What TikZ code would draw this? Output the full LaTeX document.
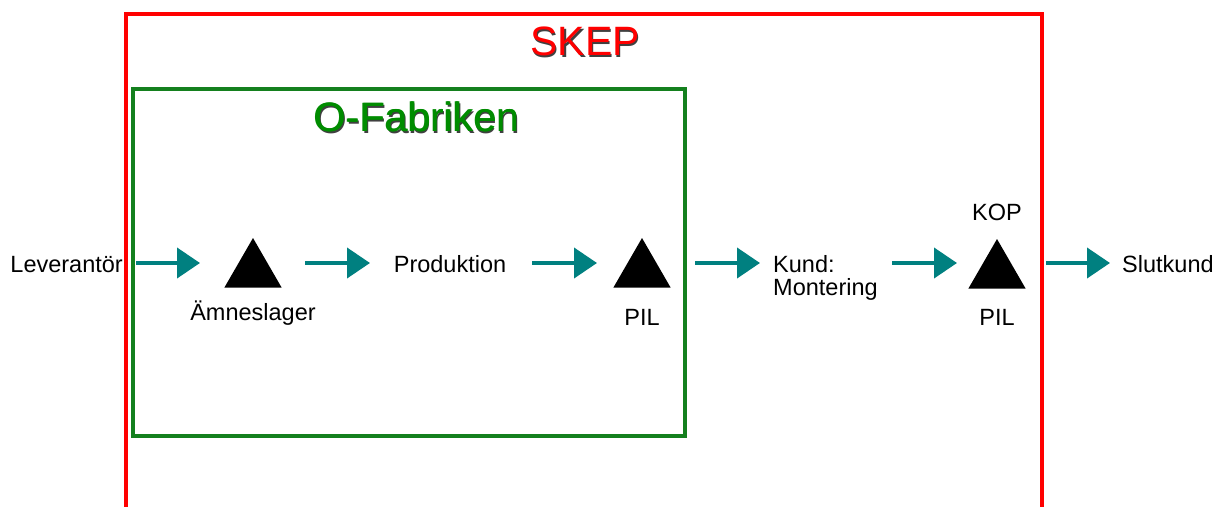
\documentclass[tikz,border=0pt]{standalone}
\usepackage{fontspec}
\setmainfont{Liberation Sans}
\usetikzlibrary{arrows.meta,shapes.geometric}
\definecolor{flowteal}{RGB}{0,128,128}
\definecolor{skepred}{RGB}{255,0,0}
\definecolor{fabgreen}{RGB}{20,128,30}
\definecolor{fabtext}{RGB}{0,140,0}
\begin{document}
\begin{tikzpicture}[x=1pt,y=-1pt,
  lbl/.style={font=\fontsize{23.5}{23}\selectfont, inner sep=0pt, text=black},
  title/.style={font=\fontsize{41}{41}\selectfont, inner sep=0pt, anchor=base},
  shadowtxt/.style={title, text=black, opacity=0.75},
  flow/.style={draw=flowteal, line width=4pt, -{Triangle[length=23pt,width=30pt,fill=flowteal]}},
  stock/.style={regular polygon, regular polygon sides=3, fill=black, inner sep=0pt, outer sep=0pt, minimum size=66pt}]
\useasboundingbox (0,0) rectangle (1217,506);
\fill[white] (0,0) rectangle (1217,506);
\begin{scope}
\clip (0,0) rectangle (1217,506);
\draw[skepred, line width=4pt] (126,14) rectangle (1042,540);
\end{scope}
\draw[fabgreen, line width=3.5pt] (133,89) rectangle (685,436);
% titles
\node[shadowtxt] at (586.5,57) {SKEP};
\node[title, text=skepred] (skep) at (585,55.5) {SKEP};
\node[shadowtxt] at (418,133) {O-Fabriken};
\node[title, text=fabtext] at (417.2,131.5) {O-Fabriken};
\node[title, text=fabtext] (ofab) at (416.5,131.5) {O-Fabriken};
% stocks
\node[stock] (t1) at (253,271) {};
\node[stock] (t2) at (642,271) {};
\node[stock] (t3) at (997,272) {};
% labels
\node[lbl, anchor=base east] (lev) at (123,272) {Leverantör};
\node[lbl, anchor=base] (amn) at (253,320) {Ämneslager};
\node[lbl, anchor=base] (prod) at (450,272) {Produktion};
\node[lbl, anchor=base] (pil1) at (642,325) {PIL};
\node[lbl, anchor=north west, align=left] (kund) at (773,255) {Kund:\\Montering};
\node[lbl, anchor=base] (kop) at (997,220) {KOP};
\node[lbl, anchor=base] (pil2) at (997,325) {PIL};
\node[lbl, anchor=base west] (slut) at (1122,272) {Slutkund};
% flow arrows
\coordinate (a1) at (136,263);
\coordinate (a2) at (305,263);
\coordinate (a3) at (532,263);
\coordinate (a4) at (695,263);
\coordinate (a5) at (892,263);
\coordinate (a6) at (1046,263);
\draw[flow] (a1) -- ++(64,0);
\draw[flow] (a2) -- ++(65,0);
\draw[flow] (a3) -- ++(65,0);
\draw[flow] (a4) -- ++(65,0);
\draw[flow] (a5) -- ++(65,0);
\draw[flow] (a6) -- ++(64,0);
\end{tikzpicture}
\end{document}
